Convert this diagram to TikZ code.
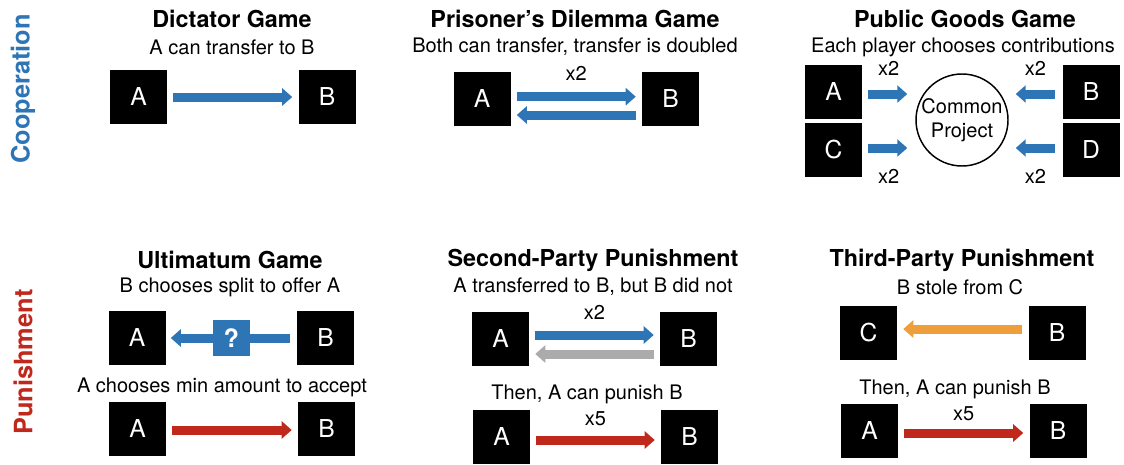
\documentclass[tikz,border=0pt]{standalone}
\usepackage{fontspec}
\setmainfont{TeX Gyre Heros}
\usetikzlibrary{arrows.meta,positioning}
\definecolor{coop}{HTML}{2E75B6}
\definecolor{pun}{HTML}{C0281C}
\definecolor{steal}{HTML}{EE9E3B}
\definecolor{nope}{HTML}{ABABAB}
\tikzset{
  player/.style={fill=black,text=white,minimum width=42.75pt,minimum height=40.5pt,
    inner sep=0pt,font=\fontsize{18.5}{20}\selectfont},
  gametitle/.style={font=\bfseries\fontsize{17.5}{20}\selectfont},
  gamenote/.style={font=\fontsize{15}{18}\selectfont},
  mult/.style={text=black,font=\fontsize{15}{18}\selectfont,inner sep=0pt},
  qbox/.style={fill=coop,text=white,minimum width=27.75pt,minimum height=27pt,
    inner sep=0pt,font=\bfseries\fontsize{19}{20}\selectfont},
  flow/.style={line width=6.75pt,-{Triangle[width=12.75pt,length=7.5pt]},
    shorten <=4.5pt,shorten >=4.5pt},
  rowlabel/.style={rotate=90,font=\bfseries\fontsize{19}{22}\selectfont},
}
\begin{document}
\begin{tikzpicture}[x=0.75pt,y=-0.75pt]
\useasboundingbox (0,0) rectangle (1124,464);
\node[rowlabel,text=coop] (coop) at (23,89) {Cooperation};
\node[rowlabel,text=pun] (pun) at (23,362) {Punishment};

% dictator game
\node[gametitle] (dg) at (232,19) {Dictator Game};
\node[gamenote] (dgn) at (232,47) {A can transfer to B};
\node[player] (dgA) at (138.5,97) {A};
\node[player] (dgB) at (327,97) {B};
\draw[flow,coop] (dgA) -- (dgB);

% prisoner's dilemma
\node[gametitle] (pd) at (575,19) {Prisoner’s Dilemma Game};
\node[gamenote] (pdn) at (575,47) {Both can transfer, transfer is doubled};
\node[player] (pdA) at (482,99) {A};
\node[player] (pdB) at (670.5,99) {B};
\draw[flow,coop] ([yshift=1.75pt]pdA.east) -- ([yshift=1.75pt]pdB.west)
  node[mult,midway,above=8.75pt] (pdx) {x2};
\draw[flow,coop] ([yshift=-12pt]pdB.west) -- ([yshift=-12pt]pdA.east);

% public goods
\node[gametitle] (pg) at (965,19) {Public Goods Game};
\node[gamenote] (pgn) at (963,47) {Each player chooses contributions};
\node[player] (pgA) at (833.5,91.5) {A};
\node[player] (pgC) at (833.5,150) {C};
\node[player] (pgB) at (1091,91.5) {B};
\node[player] (pgD) at (1091,150) {D};
\node[draw,circle,line width=1.1pt,minimum size=69pt,inner sep=0pt,align=center,gamenote]
  (pgP) at (962,120) {Common\\Project};
\draw[flow,coop,shorten >=6pt] ([yshift=-1.9pt]pgA.east) -- ([yshift=-1.9pt]pgA.east -| pgP.west)
  node[mult,midway,above=10.5pt] (pgxa) {x2};
\draw[flow,coop,shorten >=6pt] ([yshift=1.5pt]pgC.east) -- ([yshift=1.5pt]pgC.east -| pgP.west)
  node[mult,midway,below=12.75pt] (pgxc) {x2};
\draw[flow,coop,shorten <=5.25pt,shorten >=5.25pt] ([yshift=-1.9pt]pgB.west) -- ([yshift=-1.9pt]pgB.west -| pgP.east)
  node[mult,midway,above=10.5pt] (pgxb) {x2};
\draw[flow,coop,shorten <=5.25pt,shorten >=5.25pt] ([yshift=1.5pt]pgD.west) -- ([yshift=1.5pt]pgD.west -| pgP.east)
  node[mult,midway,below=12.75pt] (pgxd) {x2};

% ultimatum
\node[gametitle] (ug) at (230,260) {Ultimatum Game};
\node[gamenote] (ugn) at (230,287) {B chooses split to offer A};
\node[player] (ugA) at (137,338) {A};
\node[player] (ugB) at (325.5,338) {B};
\draw[flow,coop,shorten <=5.25pt,shorten >=3.75pt] (ugB) -- (ugA) node[qbox,midway] (ugq) {?};
\node[gamenote] (ugm) at (222,387) {A chooses min amount to accept};
\node[player] (ugA2) at (137.5,429) {A};
\node[player] (ugB2) at (326.5,429) {B};
\draw[flow,pun] ([yshift=-0.75pt]ugA2.east) -- ([yshift=-0.75pt]ugB2.west);

% second-party punishment
\node[gametitle] (sp) at (593,260) {Second-Party Punishment};
\node[gamenote] (spn) at (593,287) {A transferred to B, but B did not};
\node[player] (spA) at (500.5,339) {A};
\node[player] (spB) at (688.5,339) {B};
\draw[flow,coop] ([yshift=3pt]spA.east) -- ([yshift=3pt]spB.west)
  node[mult,midway,above=8.25pt] (spx) {x2};
\draw[flow,nope] ([yshift=-11.25pt]spB.west) -- ([yshift=-11.25pt]spA.east);
\node[gamenote] (spm) at (587,394) {Then, A can punish B};
\node[player] (spA2) at (501.5,437) {A};
\node[player] (spB2) at (689.5,437) {B};
\draw[flow,pun] ([yshift=-2.25pt]spA2.east) -- ([yshift=-2.25pt]spB2.west)
  node[mult,midway,above=7.5pt] (spy) {x5};

% third-party punishment
\node[gametitle] (tp) at (962,260) {Third-Party Punishment};
\node[gamenote] (tpn) at (960,287) {B stole from C};
\node[player] (tpC) at (868.5,332.5) {C};
\node[player] (tpB) at (1057,332.5) {B};
\draw[flow,steal] ([yshift=2.6pt]tpB.west) -- ([yshift=2.6pt]tpC.east);
\node[gamenote] (tpm) at (955,389) {Then, A can punish B};
\node[player] (tpA) at (869.5,431) {A};
\node[player] (tpB2) at (1058,431) {B};
\draw[flow,pun] ([yshift=-1.5pt]tpA.east) -- ([yshift=-1.5pt]tpB2.west)
  node[mult,midway,above=6pt] (tpy) {x5};
\end{tikzpicture}
\end{document}
